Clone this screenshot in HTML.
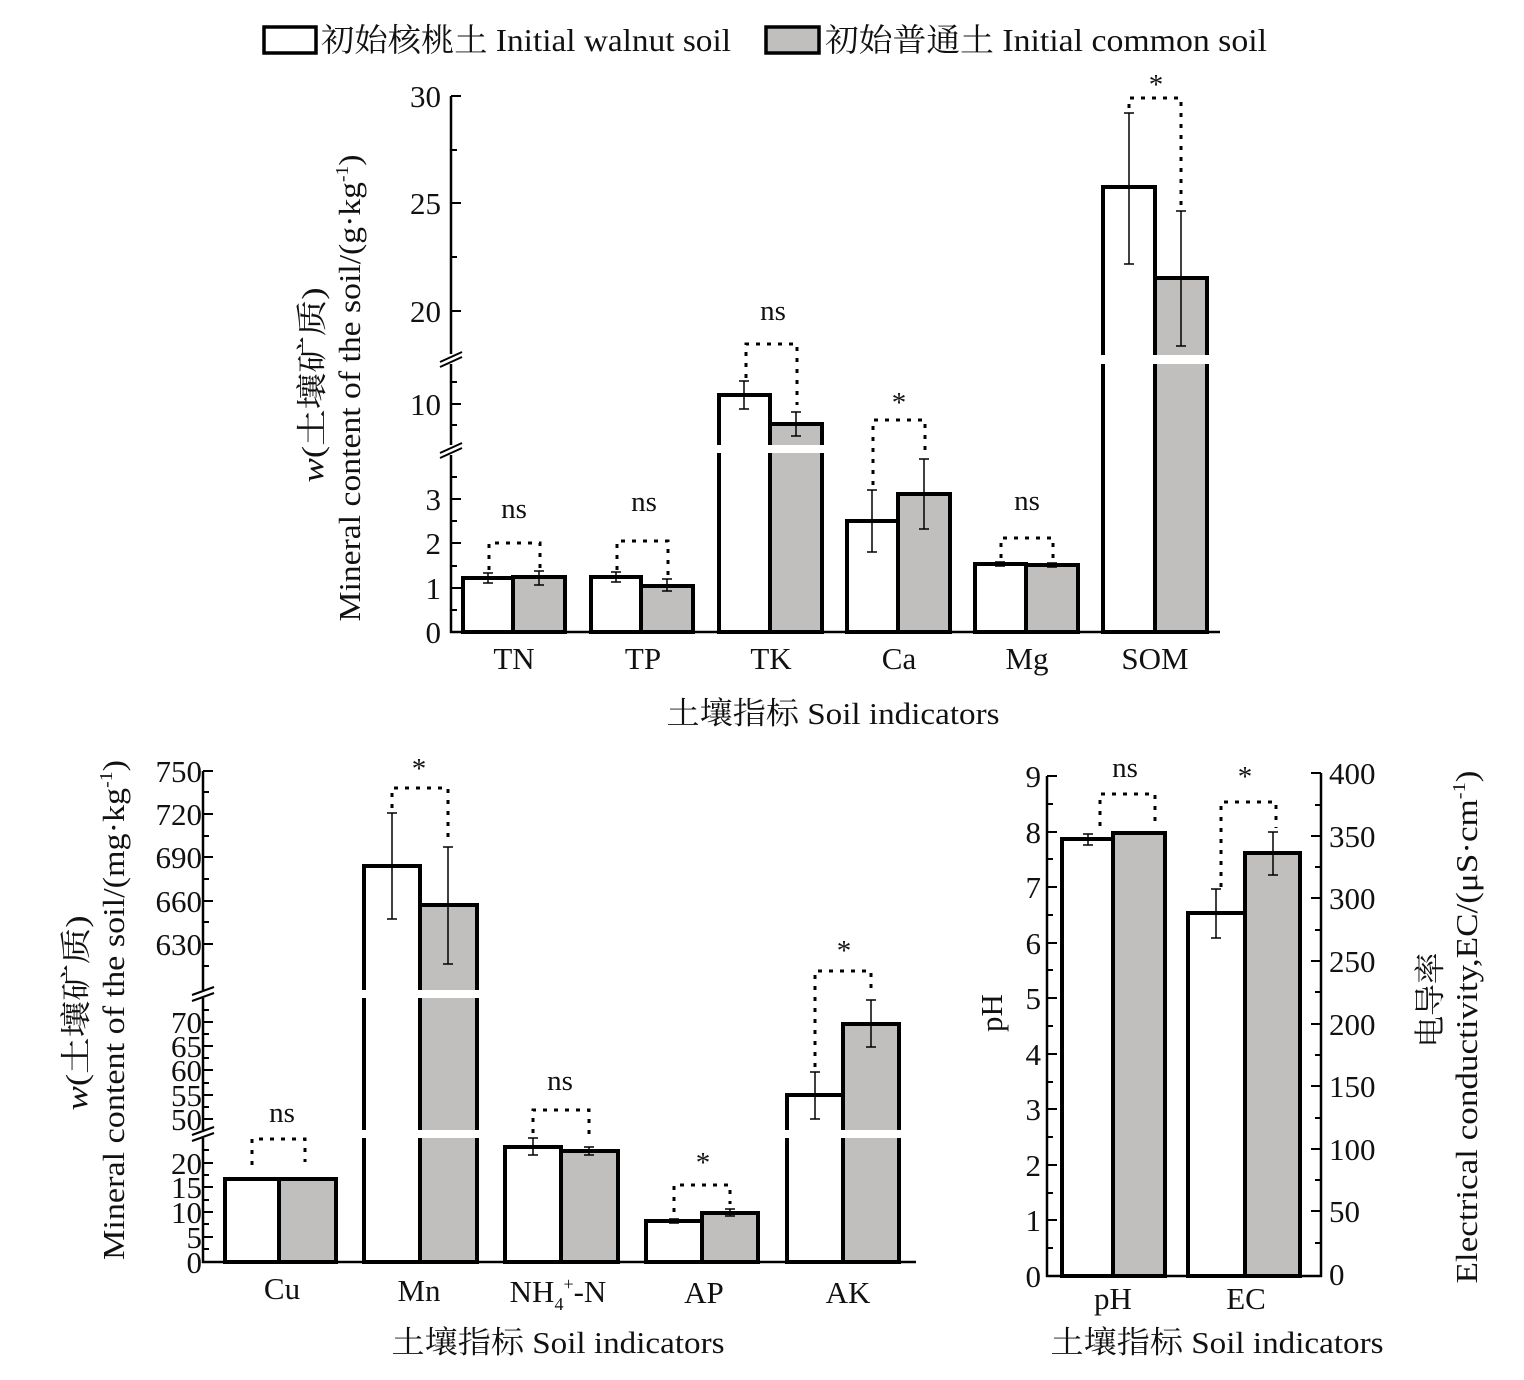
<!DOCTYPE html>
<html><head><meta charset="utf-8"><style>
html,body{margin:0;padding:0;background:#fff}
svg{display:block}
text{font-family:"Liberation Serif","Noto Serif CJK SC",serif;fill:#111}
</style></head><body>
<svg width="1524" height="1380" viewBox="0 0 1524 1380" xmlns="http://www.w3.org/2000/svg">
<g stroke="#000" fill="none">
<rect x="264" y="27" width="52" height="26" stroke-width="3.5" fill="#fff"/>
<rect x="766" y="27" width="53" height="26" stroke-width="3.5" fill="#c0bfbd"/>
</g>
<text x="321" y="51" font-size="32" textLength="410" lengthAdjust="spacingAndGlyphs">初始核桃土 Initial walnut soil</text>
<text x="825" y="51" font-size="32" textLength="442" lengthAdjust="spacingAndGlyphs">初始普通土 Initial common soil</text>

<!-- ============ TOP CHART ============ -->
<g fill="#fff" stroke="#000" stroke-width="4">
<rect x="463" y="578" width="50" height="54"/>
<rect x="513" y="577" width="52" height="55" fill="#c0bfbd"/>
<rect x="591" y="577" width="50" height="55"/>
<rect x="641" y="586" width="52" height="46" fill="#c0bfbd"/>
<rect x="719" y="395" width="51" height="237"/>
<rect x="770" y="424" width="52" height="208" fill="#c0bfbd"/>
<rect x="847" y="521" width="51" height="111"/>
<rect x="898" y="494" width="52" height="138" fill="#c0bfbd"/>
<rect x="975" y="564" width="51" height="68"/>
<rect x="1026" y="565" width="52" height="67" fill="#c0bfbd"/>
<rect x="1103" y="187" width="52" height="445"/>
<rect x="1155" y="278" width="52" height="354" fill="#c0bfbd"/>
</g>
<g fill="#fff" stroke="none">
<rect x="715" y="445" width="110" height="8"/>
<rect x="1099" y="355" width="112" height="9"/>
</g>
<g stroke="#000" stroke-width="2.5" fill="none">
<line x1="450" y1="632" x2="1220" y2="632"/>
<line x1="451" y1="96" x2="451" y2="354"/>
<line x1="451" y1="364" x2="451" y2="445"/>
<line x1="451" y1="455" x2="451" y2="633"/>
<line x1="440" y1="362" x2="462" y2="352" stroke-width="2"/>
<line x1="440" y1="367" x2="462" y2="357" stroke-width="2"/>
<line x1="440" y1="453" x2="462" y2="443" stroke-width="2"/>
<line x1="440" y1="458" x2="462" y2="448" stroke-width="2"/>
</g>
<g stroke="#000" stroke-width="2">
<line x1="451" y1="96" x2="461" y2="96"/><line x1="451" y1="150" x2="457" y2="150"/>
<line x1="451" y1="203" x2="461" y2="203"/><line x1="451" y1="257" x2="457" y2="257"/>
<line x1="451" y1="311" x2="461" y2="311"/>
<line x1="451" y1="382" x2="457" y2="382"/><line x1="451" y1="404" x2="461" y2="404"/><line x1="451" y1="425" x2="457" y2="425"/>
<line x1="451" y1="477" x2="457" y2="477"/>
<line x1="451" y1="499" x2="461" y2="499"/><line x1="451" y1="521" x2="457" y2="521"/>
<line x1="451" y1="543" x2="461" y2="543"/><line x1="451" y1="566" x2="457" y2="566"/>
<line x1="451" y1="588" x2="461" y2="588"/><line x1="451" y1="610" x2="457" y2="610"/>
</g>
<g font-size="31" text-anchor="end">
<text x="441" y="107">30</text><text x="441" y="214">25</text><text x="441" y="322">20</text>
<text x="441" y="415">10</text><text x="441" y="510">3</text><text x="441" y="554">2</text>
<text x="441" y="599">1</text><text x="441" y="643">0</text>
</g>
<g stroke="#000" stroke-width="1.5">
<path d="M488 573V583M483 573H493M483 583H493"/>
<path d="M539 571V585M534 571H544M534 585H544"/>
<path d="M616 572V582M611 572H621M611 582H621"/>
<path d="M667 579V591M662 579H672M662 591H672"/>
<path d="M744 381V409M739 381H749M739 409H749"/>
<path d="M796 412V436M791 412H801M791 436H801"/>
<path d="M872 490V552M867 490H877M867 552H877"/>
<path d="M924 459V529M919 459H929M919 529H929"/>
<path d="M1000 562V566M995 562H1005M995 566H1005"/>
<path d="M1052 563V567M1047 563H1057M1047 567H1057"/>
<path d="M1129 113V264M1124 113H1134M1124 264H1134"/>
<path d="M1181 211V346M1176 211H1186M1176 346H1186"/>
</g>
<g stroke="#000" stroke-width="3" fill="none" stroke-dasharray="4,7">
<path d="M489 570V543H540V570"/>
<path d="M617 570V541H668V576"/>
<path d="M746 378V344H797V405"/>
<path d="M873 485V420H925V455"/>
<path d="M1001 558V538H1053V558"/>
<path d="M1129 108V98H1181V205"/>
</g>
<g font-size="29" text-anchor="middle">
<text x="514" y="518">ns</text><text x="644" y="511">ns</text><text x="773" y="320">ns</text>
<text x="899" y="412">*</text><text x="1027" y="510">ns</text><text x="1156" y="94">*</text>
</g>
<g font-size="31" text-anchor="middle">
<text x="514" y="669">TN</text><text x="643" y="669">TP</text><text x="771" y="669">TK</text>
<text x="899" y="669">Ca</text><text x="1027" y="669">Mg</text><text x="1155" y="669">SOM</text>
<text x="833" y="724" textLength="333" lengthAdjust="spacingAndGlyphs">土壤指标 Soil indicators</text>
</g>
<g font-size="31" text-anchor="middle">
<text transform="translate(323,385) rotate(-90)" textLength="195" lengthAdjust="spacingAndGlyphs"><tspan font-style="italic">w</tspan>(土壤矿质)</text>
<text transform="translate(360,388) rotate(-90)" textLength="467" lengthAdjust="spacingAndGlyphs">Mineral content of the soil/(g·kg<tspan font-size="18" dy="-12">-1</tspan><tspan dy="12">)</tspan></text>
</g>

<!-- ============ BOTTOM LEFT ============ -->
<g fill="#fff" stroke="#000" stroke-width="4">
<rect x="225" y="1179" width="54" height="83"/>
<rect x="279" y="1179" width="57" height="83" fill="#c0bfbd"/>
<rect x="364" y="866" width="56" height="396"/>
<rect x="420" y="905" width="57" height="357" fill="#c0bfbd"/>
<rect x="505" y="1147" width="56" height="115"/>
<rect x="561" y="1151" width="57" height="111" fill="#c0bfbd"/>
<rect x="646" y="1221" width="56" height="41"/>
<rect x="702" y="1213" width="56" height="49" fill="#c0bfbd"/>
<rect x="787" y="1095" width="56" height="167"/>
<rect x="843" y="1024" width="56" height="238" fill="#c0bfbd"/>
</g>
<g fill="#fff" stroke="none">
<rect x="360" y="990" width="122" height="8"/>
<rect x="360" y="1130" width="122" height="8"/>
<rect x="783" y="1130" width="122" height="8"/>
</g>
<g stroke="#000" stroke-width="2.5" fill="none">
<line x1="202" y1="1262" x2="916" y2="1262"/>
<line x1="203" y1="771" x2="203" y2="990"/>
<line x1="203" y1="998" x2="203" y2="1130"/>
<line x1="203" y1="1138" x2="203" y2="1263"/>
<line x1="192" y1="995" x2="214" y2="987" stroke-width="2"/>
<line x1="192" y1="1001" x2="214" y2="993" stroke-width="2"/>
<line x1="192" y1="1135" x2="214" y2="1127" stroke-width="2"/>
<line x1="192" y1="1141" x2="214" y2="1133" stroke-width="2"/>
</g>
<g stroke="#000" stroke-width="2">
<path d="M203 771h10M203 792h6M203 814h10M203 836h6M203 857h10M203 879h6M203 901h10M203 922h6M203 944h10M203 966h6"/>
<path d="M203 1010h6M203 1022h10M203 1034h6M203 1046h10M203 1058h6M203 1070h10M203 1083h6M203 1095h10M203 1107h6M203 1119h10"/>
<path d="M203 1150h6M203 1163h10M203 1175h6M203 1187h10M203 1200h6M203 1212h10M203 1224h6M203 1237h10M203 1249h6"/>
</g>
<g font-size="31" text-anchor="end">
<text x="202" y="782">750</text><text x="202" y="825">720</text><text x="202" y="868">690</text>
<text x="202" y="912">660</text><text x="202" y="955">630</text>
<text x="202" y="1033">70</text><text x="202" y="1057">65</text><text x="202" y="1081">60</text>
<text x="202" y="1106">55</text><text x="202" y="1130">50</text>
<text x="202" y="1174">20</text><text x="202" y="1198">15</text><text x="202" y="1223">10</text>
<text x="202" y="1248">5</text><text x="202" y="1273">0</text>
</g>
<g stroke="#000" stroke-width="1.5">
<path d="M392 813V919M387 813H397M387 919H397"/>
<path d="M448 847V964M443 847H453M443 964H453"/>
<path d="M533 1138V1155M528 1138H538M528 1155H538"/>
<path d="M589 1147V1155M584 1147H594M584 1155H594"/>
<path d="M674 1219V1223M669 1219H679M669 1223H679"/>
<path d="M730 1209V1216M725 1209H735M725 1216H735"/>
<path d="M815 1072V1119M810 1072H820M810 1119H820"/>
<path d="M871 1000V1047M866 1000H876M866 1047H876"/>
</g>
<g stroke="#000" stroke-width="3" fill="none" stroke-dasharray="4,7">
<path d="M252 1165V1139H305V1162"/>
<path d="M392 808V788H448V842"/>
<path d="M533 1133V1110H589V1140"/>
<path d="M674 1212V1185H730V1204"/>
<path d="M815 1067V971H871V995"/>
</g>
<g font-size="29" text-anchor="middle">
<text x="282" y="1122">ns</text><text x="419" y="778">*</text><text x="560" y="1090">ns</text>
<text x="703" y="1172">*</text><text x="844" y="960">*</text>
</g>
<g font-size="31" text-anchor="middle">
<text x="282" y="1299">Cu</text><text x="419" y="1301">Mn</text>
<text x="558" y="1302">NH<tspan font-size="18" dy="8">4</tspan><tspan font-size="18" dy="-20">+</tspan><tspan dy="12">-N</tspan></text>
<text x="704" y="1303">AP</text><text x="848" y="1303">AK</text>
<text x="558" y="1353" textLength="333" lengthAdjust="spacingAndGlyphs">土壤指标 Soil indicators</text>
<text transform="translate(87,1013) rotate(-90)" textLength="195" lengthAdjust="spacingAndGlyphs"><tspan font-style="italic">w</tspan>(土壤矿质)</text>
<text transform="translate(124,1010) rotate(-90)" textLength="500" lengthAdjust="spacingAndGlyphs">Mineral content of the soil/(mg·kg<tspan font-size="18" dy="-12">-1</tspan><tspan dy="12">)</tspan></text>
</g>

<!-- ============ BOTTOM RIGHT ============ -->
<g fill="#fff" stroke="#000" stroke-width="4">
<rect x="1062" y="839" width="51" height="437"/>
<rect x="1113" y="833" width="52" height="443" fill="#c0bfbd"/>
<rect x="1188" y="913" width="57" height="363"/>
<rect x="1245" y="853" width="55" height="423" fill="#c0bfbd"/>
</g>
<g stroke="#000" stroke-width="2.5" fill="none">
<line x1="1046" y1="1276" x2="1322" y2="1276"/>
<line x1="1047" y1="776" x2="1047" y2="1277"/>
<line x1="1321" y1="773" x2="1321" y2="1277"/>
</g>
<g stroke="#000" stroke-width="2">
<path d="M1047 776h10M1047 804h6M1047 832h10M1047 859h6M1047 887h10M1047 915h6M1047 943h10M1047 970h6M1047 998h10M1047 1026h6M1047 1054h10M1047 1082h6M1047 1109h10M1047 1137h6M1047 1165h10M1047 1193h6M1047 1220h10M1047 1248h6"/>
<path d="M1321 773h-10M1321 805h-6M1321 836h-10M1321 867h-6M1321 898h-10M1321 930h-6M1321 961h-10M1321 992h-6M1321 1024h-10M1321 1055h-6M1321 1086h-10M1321 1118h-6M1321 1149h-10M1321 1180h-6M1321 1211h-10M1321 1243h-6"/>
</g>
<g font-size="31" text-anchor="end">
<text x="1041" y="787">9</text><text x="1041" y="843">8</text><text x="1041" y="898">7</text>
<text x="1041" y="954">6</text><text x="1041" y="1009">5</text><text x="1041" y="1065">4</text>
<text x="1041" y="1120">3</text><text x="1041" y="1176">2</text><text x="1041" y="1231">1</text>
<text x="1041" y="1287">0</text>
</g>
<g font-size="31" text-anchor="start">
<text x="1329" y="784">400</text><text x="1329" y="847">350</text><text x="1329" y="909">300</text>
<text x="1329" y="972">250</text><text x="1329" y="1035">200</text><text x="1329" y="1097">150</text>
<text x="1329" y="1160">100</text><text x="1329" y="1222">50</text><text x="1329" y="1285">0</text>
</g>
<g stroke="#000" stroke-width="1.5">
<path d="M1088 834V845M1083 834H1093M1083 845H1093"/>
<path d="M1216 889V938M1211 889H1221M1211 938H1221"/>
<path d="M1273 832V875M1268 832H1278M1268 875H1278"/>
</g>
<g stroke="#000" stroke-width="3" fill="none" stroke-dasharray="4,7">
<path d="M1100 826V794H1155V822"/>
<path d="M1221 887V802H1276V828"/>
</g>
<g font-size="29" text-anchor="middle">
<text x="1125" y="777">ns</text><text x="1245" y="786">*</text>
</g>
<g font-size="31" text-anchor="middle">
<text x="1113" y="1309">pH</text><text x="1246" y="1309">EC</text>
<text x="1217" y="1353" textLength="333" lengthAdjust="spacingAndGlyphs">土壤指标 Soil indicators</text>
<text transform="translate(1002,1013) rotate(-90)">pH</text>
<text transform="translate(1441,1000) rotate(-90)" textLength="95" lengthAdjust="spacingAndGlyphs">电导率</text>
<text transform="translate(1477,1027) rotate(-90)" textLength="513" lengthAdjust="spacingAndGlyphs">Electrical conductivity,EC/(μS·cm<tspan font-size="18" dy="-12">-1</tspan><tspan dy="12">)</tspan></text>
</g>
</svg>
</body></html>
